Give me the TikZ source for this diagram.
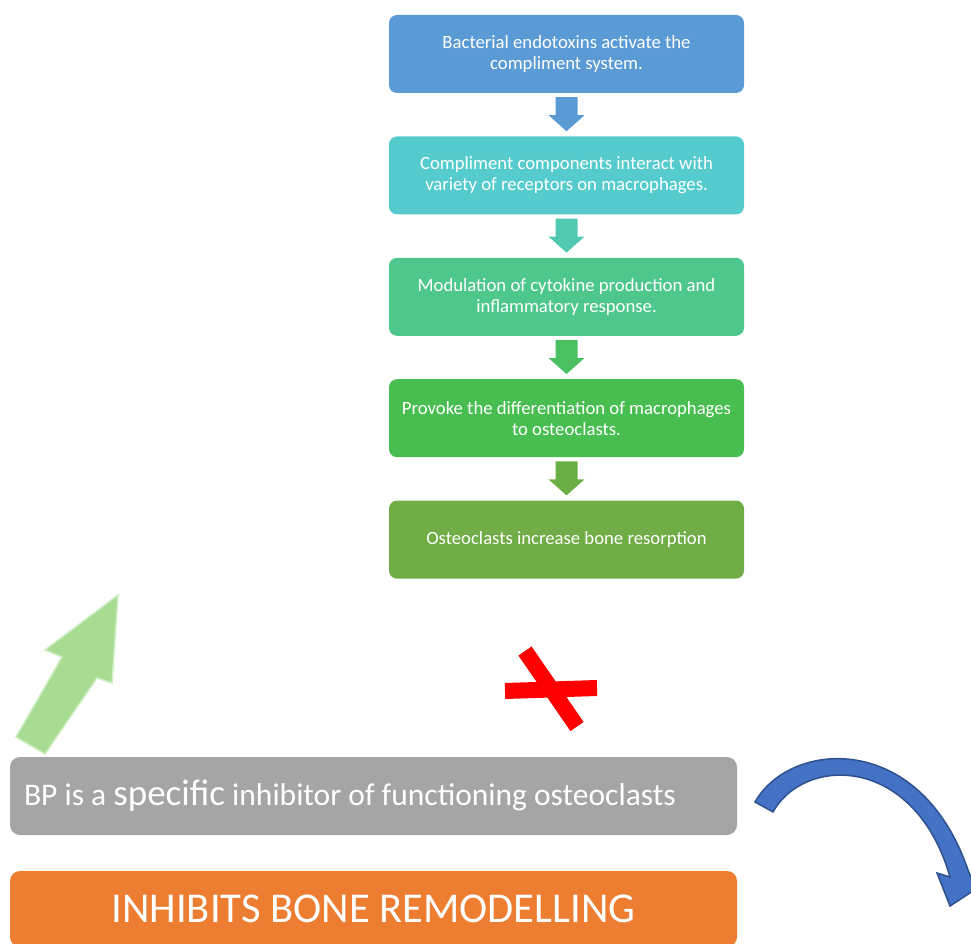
\documentclass[tikz,border=0pt]{standalone}
\usepackage{fontspec}
\setmainfont{Carlito}
\usetikzlibrary{positioning,calc}
\definecolor{boxA}{HTML}{5B9BD5}
\definecolor{boxB}{HTML}{55CBCD}
\definecolor{boxC}{HTML}{4EC78C}
\definecolor{boxD}{HTML}{48BD50}
\definecolor{boxE}{HTML}{70AD47}
\definecolor{arrB}{HTML}{51C9B0}
\definecolor{arrC}{HTML}{4AC062}
\definecolor{arrD}{HTML}{6BAE47}
\definecolor{bpgray}{HTML}{A5A5A5}
\definecolor{remorange}{HTML}{ED7D31}
\definecolor{upgreen}{HTML}{A9DC93}
\definecolor{upglow}{HTML}{CDEEC0}
\definecolor{curveblue}{HTML}{4472C4}
\definecolor{curveline}{HTML}{2F528F}
\tikzset{
	flowbox/.style={rectangle, rounded corners=8pt, minimum width=355pt, minimum height=78pt,
		align=center, text=white, inner sep=0pt,
		font=\fontsize{18.7}{21}\selectfont},
	widebox/.style={rectangle, rounded corners=10pt, minimum width=727pt, text=white, inner xsep=14pt}
}
\begin{document}
\begin{tikzpicture}[x=1pt,y=-1pt]
					%\draw[help lines] (0,0) grid (971,944);
					\useasboundingbox (0,0) rectangle (971,944);
					
					\node[flowbox, fill=boxA] (s1) at (566.5,54) {Bacterial endotoxins activate the\\compliment system.};
					\node[flowbox, fill=boxB, below=43pt of s1] (s2) {Compliment components interact with\\variety of receptors on macrophages.};
					\node[flowbox, fill=boxC, below=43pt of s2] (s3) {Modulation of cytokine production and\\inflammatory response.};
					\node[flowbox, fill=boxD, below=43pt of s3] (s4) {Provoke the differentiation of macrophages\\to osteoclasts.};
					\node[flowbox, fill=boxE, below=43pt of s4] (s5) {Osteoclasts increase bone resorption};
					\foreach \u/\v/\c in {s1/s2/boxA,s2/s3/arrB,s3/s4/arrC,s4/s5/arrD}{
						\fill[\c] ($(\u.south)+(-11,4)$) -- ($(\u.south)+(11,4)$) -- ($(\u.south)+(11,22)$)
							-- ($(\u.south)+(18,22)$) -- ($(\v.north)+(0,-5)$) -- ($(\u.south)+(-18,22)$)
							-- ($(\u.south)+(-11,22)$) -- cycle;}
					
					\node[widebox, fill=bpgray, minimum height=78pt, text width=699pt, align=flush left,
						font=\fontsize{31.5}{34}\selectfont] (bp) at (373.5,796)
						{BP is a {\fontsize{37}{37}\selectfont specific} inhibitor of functioning osteoclasts};
					\node[widebox, fill=remorange, minimum height=76pt, font=\fontsize{42.5}{43}\selectfont] (remod) at (373.5,909)
						{INHIBITS BONE REMODELLING};
					
					\fill[upgreen, draw=upglow, line width=1.5pt] (16,737) -- (62,657) -- (45,650) -- (118,595)
						-- (112,683) -- (97,678) -- (45,754) -- cycle;
					\draw[red, line width=16pt] (505,691) -- (597,688);
					\draw[red, line width=16pt] (525,651) -- (577,726.5);
					\filldraw[fill=curveblue, draw=curveline, line width=1.5pt] (755,802) .. controls (790,740) and (920,730) .. (968,870)
						-- (976,889) -- (950,906) -- (937,873) -- (950,877)
						.. controls (915,755) and (805,755) .. (773,812) -- cycle;
				\end{tikzpicture}
\end{document}
